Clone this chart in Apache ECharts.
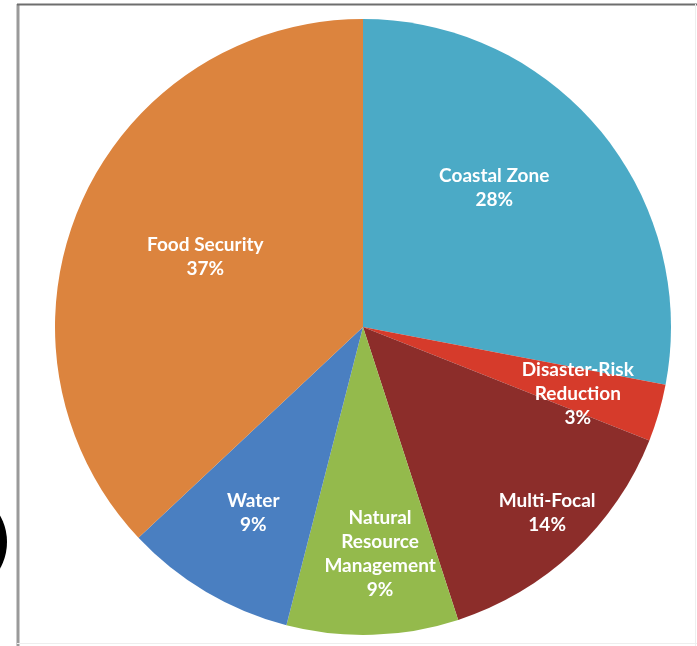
<!DOCTYPE html>
<html>
<head>
<meta charset="utf-8">
<script src="https://cdn.jsdelivr.net/npm/echarts@6/dist/echarts.min.js"></script>
<style>
    html, body { margin: 0; padding: 0; background: #fff; }
    #pieChart { width: 697px; height: 646px; }
</style>
</head>
<body>
<div id="pieChart"></div>
<script>
// slices, clockwise from 12 o'clock
var categories = ['Coastal Zone', 'Disaster-Risk\nReduction', 'Multi-Focal', 'Natural\nResource\nManagement', 'Water', 'Food Security'];
var shares = [28, 3, 14, 9, 9, 37];
var colors = ['#4BAAC6', '#D63B2B', '#8C2D2A', '#94BA4C', '#4A7FC1', '#DC843E'];
// where each label sits: part of the radius, and turn (degrees) off the slice middle
var labelRadius = [0.62, 0.73, 0.85, 0.74, 0.70, 0.56];
var labelTurn = [-7, 1, -1.5, -2.5, 0, 0.5];

var cx = 363, cy = 327, radius = 308;

var pieData = [];
for (let i = 0; i < categories.length; i++) {
    pieData.push({
        name: categories[i],
        value: shares[i],
        itemStyle: { color: colors[i] }
    });
}

var myChart = echarts.init(document.getElementById('pieChart'));
var option = {
    animation: false,
    graphic: [
        // frame round the picture
        { type: 'line', shape: { x1: 18, y1: 4, x2: 18, y2: 646 }, style: { stroke: '#9a9a9a', lineWidth: 3 } },
        { type: 'line', shape: { x1: 17, y1: 4.5, x2: 697, y2: 4.5 }, style: { stroke: '#6e6e6e', lineWidth: 2 } },
        { type: 'line', shape: { x1: 695.5, y1: 4, x2: 695.5, y2: 646 }, style: { stroke: '#eeeeee', lineWidth: 1 } },
        { type: 'line', shape: { x1: 17, y1: 643.5, x2: 697, y2: 643.5 }, style: { stroke: '#eeeeee', lineWidth: 1 } },
        // black disc cut by the left edge
        { type: 'circle', shape: { cx: -47, cy: 542, r: 54 }, style: { fill: '#000' } }
    ],
    series: [
        {
            type: 'pie',
            center: [cx, cy],
            radius: [0, radius],
            startAngle: 90,
            clockwise: true,
            data: pieData,
            itemStyle: { borderWidth: 0 },
            label: {
                show: true,
                position: 'inside',
                color: '#fff',
                fontFamily: 'Lato',
                fontWeight: 'bold',
                fontSize: 19,
                lineHeight: 24,
                align: 'center',
                formatter: (p) => p.name + '\n' + p.value + '%'
            },
            labelLine: { show: false },
            emphasis: { disabled: true }
        }
    ]
};
myChart.setOption(option);

// move each inside label out (and turn it a little), like the Excel layout
myChart.setOption({
    series: [{
        labelLayout: function (params) {
            var r = params.labelRect;
            var lx = r.x + r.width / 2 - cx;
            var ly = r.y + r.height / 2 - cy;
            var a = Math.atan2(ly, lx) + labelTurn[params.dataIndex] * Math.PI / 180;
            var d = labelRadius[params.dataIndex] * radius;
            return {
                x: cx + d * Math.cos(a),
                y: cy + d * Math.sin(a),
                align: 'center',
                verticalAlign: 'middle'
            };
        }
    }]
});
</script>
</body>
</html>
